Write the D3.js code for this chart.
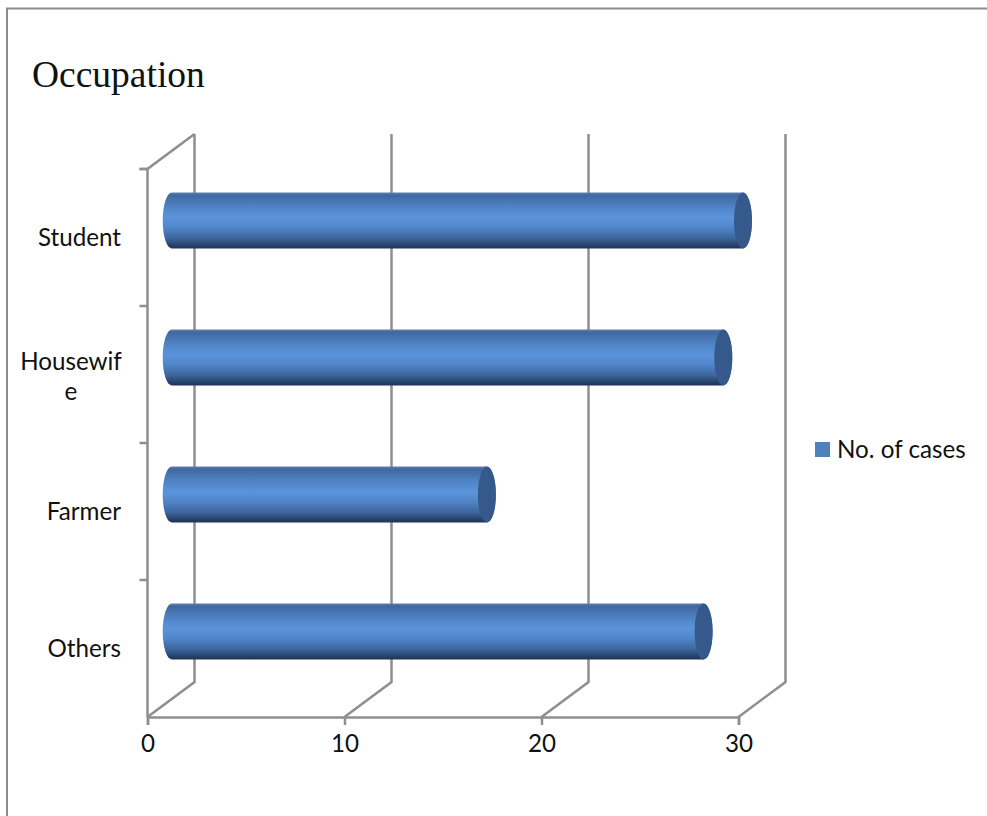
<!DOCTYPE html>
<html>
<head>
<meta charset="utf-8">
<script src="https://cdn.jsdelivr.net/npm/d3@7"></script>
<style>
html,body{margin:0;padding:0;background:#fff;overflow:hidden}
text{fill:#111}
</style>
</head>
<body>
<script>
// Occupation chart: horizontal cylinders inside a 3D-style frame
const categories = ["Others", "Farmer", "Housewife", "Student"];
const categoryLines = [["Others"], ["Farmer"], ["Housewif", "e"], ["Student"]];
const cases = [27, 16, 28, 29];
const xTicks = [0, 10, 20, 30];
const seriesName = "No. of cases";
const chartTitle = "Occupation";

const W = 987, H = 816;
const axisColor = "#8f8f8f";
const uiFont = "Lato, Carlito, 'Open Sans', sans-serif";
const uiSize = 24.2;

const svg = d3.select("body").append("svg").attr("width", W).attr("height", H);

// Projection offset between the front plane and the back wall
const depth = { dx: 47, dy: -35 };
const x = d3.scaleLinear().domain([0, 30]).range([147.5, 738.5]);
const y = d3.scaleBand().domain(categories).range([717, 169]);

// Gradient running across the cylinder body
const grad = svg.append("defs").append("linearGradient")
  .attr("id", "barShade").attr("x1", 0).attr("x2", 0).attr("y1", 0).attr("y2", 1);
[[0, "#5d7fae"], [0.05, "#40689f"], [0.25, "#4f82c4"], [0.45, "#5b94dc"], [0.62, "#5186c9"],
 [0.82, "#3c659c"], [0.95, "#263f66"], [1, "#1f3558"]]
  .forEach(([o, c]) => grad.append("stop").attr("offset", o).attr("stop-color", c));

// Outer chart frame, running off the right and bottom of the page
svg.append("path").attr("d", `M7,${H + 5}V8.5H${W + 5}`)
  .attr("fill", "none").attr("stroke", "#8c8c8c").attr("stroke-width", 2);

const frame = svg.append("g").attr("fill", "none").attr("stroke", axisColor).attr("stroke-width", 2.5);
const [yBottom, yTop] = y.range();

// Floor and back-wall gridlines for each value tick
frame.selectAll("path.wall").data(xTicks).join("path").attr("class", "wall")
  .attr("d", v => d3.line()([
    [x(v), yBottom],
    [x(v) + depth.dx, yBottom + depth.dy],
    [x(v) + depth.dx, yTop + depth.dy]
  ]));

// Left side wall of the frame
frame.append("path").attr("d", d3.line()([
  [x(0), yBottom], [x(0), yTop], [x(0) + depth.dx, yTop + depth.dy]
]));

// Value axis along the front of the floor
const xAxis = svg.append("g").attr("transform", `translate(0,${yBottom})`)
  .call(d3.axisBottom(x).tickValues(xTicks).tickSize(8).tickPadding(10).tickFormat(d3.format("d")));
xAxis.select(".domain").attr("stroke", axisColor).attr("stroke-width", 2.5);
xAxis.selectAll("line").attr("stroke", axisColor).attr("stroke-width", 2.5);
xAxis.selectAll("text").attr("font-family", uiFont).attr("font-size", uiSize).attr("fill", "#111");

// Category ticks on the band boundaries
const bandEdges = categories.map(c => y(c)).concat(yTop);
svg.append("g").attr("stroke", axisColor).attr("stroke-width", 2.5)
  .selectAll("line").data(bandEdges).join("line")
  .attr("x1", x(0) - 8).attr("x2", x(0)).attr("y1", d => d).attr("y2", d => d);

// Category labels, wrapped where the slot is too narrow
const labelGroup = svg.append("g").attr("font-family", uiFont).attr("font-size", uiSize);
const labels = labelGroup.selectAll("text").data(categories).join("text")
  .attr("x", d => d === "Housewife" ? 71 : 121)
  .attr("text-anchor", d => d === "Housewife" ? "middle" : "end")
  .attr("y", d => y(d) + y.bandwidth() / 2 + (d === "Housewife" ? -5 : 8));
labels.selectAll("tspan").data((d, i) => categoryLines[i]).join("tspan")
  .attr("x", function () { return this.parentNode.getAttribute("x"); })
  .attr("dy", (d, i) => i ? 30 : 0)
  .text(d => d);

// Cylinders sit midway through the frame depth
const barH = 56, capRx = 9;
const midX = depth.dx / 2 + 0.7, midY = depth.dy / 2;
const barY = c => y(c) + y.bandwidth() / 2 + midY - barH / 2 + 0.5;

const bars = svg.append("g").selectAll("g").data(categories).join("g");
bars.append("path")
  .attr("fill", "url(#barShade)")
  .attr("d", (c, i) => {
    const x0 = x(0) + midX, x1 = x(cases[i]) + midX, t = barY(c), r = barH / 2;
    return `M${x0},${t}H${x1}A${capRx},${r} 0 0 1 ${x1},${t + barH}H${x0}A${capRx},${r} 0 0 1 ${x0},${t}Z`;
  });
bars.append("ellipse")
  .attr("fill", "#35598a")
  .attr("cx", (c, i) => x(cases[i]) + midX)
  .attr("cy", c => barY(c) + barH / 2)
  .attr("rx", capRx).attr("ry", barH / 2);

// Title
svg.append("text").attr("x", 32).attr("y", 87)
  .attr("font-family", "'Liberation Serif', 'Times New Roman', serif")
  .attr("font-size", 37.5).text(chartTitle);

// Legend
svg.append("rect").attr("x", 815).attr("y", 442).attr("width", 15).attr("height", 15).attr("fill", "#4f81bd");
svg.append("text").attr("x", 837).attr("y", 458)
  .attr("font-family", uiFont).attr("font-size", uiSize).text(seriesName);
</script>
</body>
</html>
